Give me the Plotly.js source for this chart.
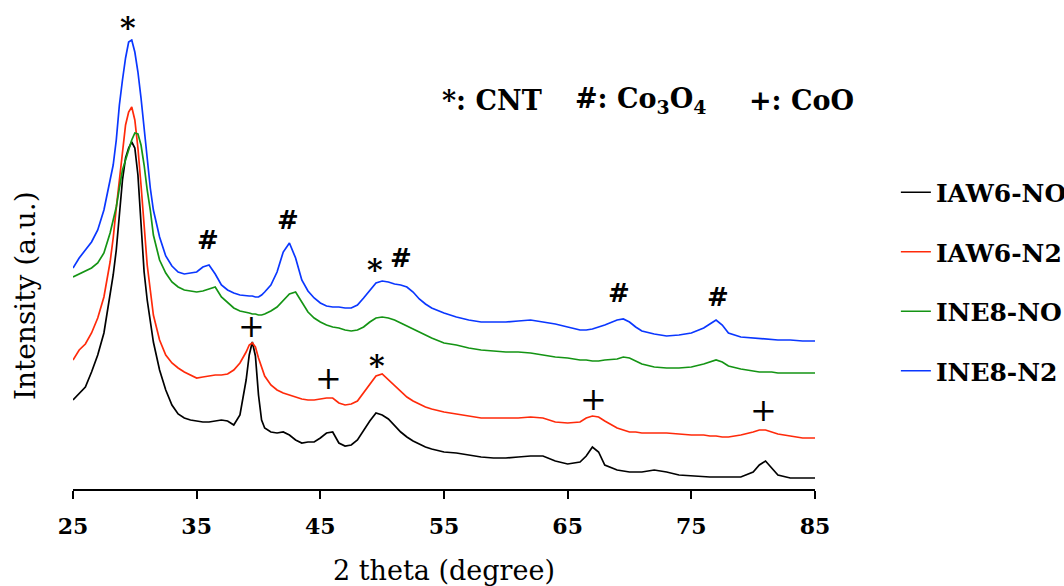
<!DOCTYPE html>
<html>
<head>
<meta charset="utf-8">
<script src="https://cdn.plot.ly/plotly-3.0.1.min.js"></script>
<style>html,body{margin:0;padding:0;background:#fff;}#chart{width:1064px;height:586px;}</style>
</head>
<body>
<div id="chart"></div>
<script>
// 2 theta (degree) grid shared by all patterns
var twoTheta = [25,25.5,26,26.5,27,27.5,28,28.25,28.5,28.75,29,29.25,29.5,29.75,30,30.25,30.5,30.75,31,31.25,31.5,32,32.5,33,33.5,34,34.5,35,35.5,36,36.5,37,37.5,38,38.5,39,39.25,39.5,39.75,40,40.25,40.5,41,41.5,42,42.5,43,43.5,44,44.5,45,45.5,46,46.5,47,47.5,48,48.5,49,49.5,50,50.5,51,51.5,52,52.5,53,53.5,54,55,56,57,58,59,60,61,62,63,64,65,66,66.5,67,67.5,68,69,69.5,70,70.5,71,72,73,74,75,76,76.5,77,77.5,78,79,80,80.5,81,81.5,82,83,84,85];

var seriesNames = ["IAW6-NO", "IAW6-N2", "INE8-NO", "INE8-N2"];

var iaw6NO = [89,96,102,117,134,156,192,214,239,277,
  309,331,341,347,341,314,269,217,189,166,
  147,119,99,84,75,71,69,68,67,67,
  68,69,68,64,74,109,134,147,133,94,
  69,61,57,56,57,54,49,46,47,47,
  51,56,57,46,43,44,49,59,68,76,
  74,70,63,57,52,48,45,42,40,37,
  36,34,32,31,31,32,33,33,28,25,
  27,33,42,37,24,19,18,17,17,17,
  19,17,14,13,12,12,12,12,12,12,
  17,24,28,21,14,11,11,11];

var iaw6N2 = [129,139,145,156,171,192,227,251,281,309,
  339,364,377,382,369,341,304,264,224,199,
  174,149,134,126,121,117,114,111,112,113,
  114,114,115,119,126,137,144,146,142,131,
  121,113,104,99,96,94,92,90,89,89,
  90,91,91,86,84,85,88,96,104,113,
  115,109,103,97,92,88,85,82,80,77,
  75,73,71,71,71,71,72,71,67,66,
  67,71,73,72,68,61,59,57,57,56,
  56,56,55,54,54,53,53,52,52,54,
  57,59,59,57,55,53,51,51];

var ine8NO = [212,215,218,221,226,236,256,268,282,301,
  319,329,339,349,356,355,344,324,299,279,
  254,229,216,207,202,199,198,197,198,200,
  202,192,186,181,178,177,176,175,175,174,
  174,175,178,182,188,195,197,187,177,171,
  167,164,162,161,159,158,159,162,167,171,
  172,171,169,166,163,160,157,154,151,146,
  144,141,139,138,137,137,136,134,132,131,
  129,129,128,128,129,130,132,131,128,125,
  122,121,121,122,125,127,129,127,123,120,
  118,117,117,117,116,116,116,116];

var ine8N2 = [221,231,239,247,259,279,309,324,349,384,
  409,431,447,449,437,417,391,359,327,301,
  279,252,233,223,217,215,216,217,222,224,
  215,204,199,196,194,193,193,193,192,192,
  194,197,204,217,237,246,231,209,198,191,
  186,183,182,182,181,181,184,191,199,206,
  208,207,205,204,202,197,190,185,181,176,
  172,169,167,167,167,168,169,167,165,162,
  159,159,160,162,164,169,170,167,162,158,
  155,153,154,156,161,165,169,164,156,152,
  151,151,150,150,149,149,148,148];

var seriesValues = [iaw6NO, iaw6N2, ine8NO, ine8N2];
var seriesColors = ["#000000", "#ff2a0a", "#149414", "#0a37ff"];

// Peak marks: symbol, 2 theta, height (intensity units)
var peakSymbols = ["*", "#", "#", "*", "#", "#", "#", "+", "+", "*", "+", "+"];
var peakTheta   = [29.45, 35.9, 42.4, 49.4, 51.5, 69.15, 77.15, 39.4, 45.7, 49.6, 67.05, 80.8];
var peakHeight  = [461, 249, 269, 220, 231, 196, 192, 163, 111, 124, 90, 79];

var legendKey = ["*: CNT", "#: Co<sub>3</sub>O<sub>4</sub>", "+: CoO"];
var legendKeyX = [0.4946, 0.674, 0.908];

var yMax = 450;
var serif = "DejaVu Serif, Liberation Serif, serif";

var traces = seriesNames.map(function (name, i) {
  return {
    x: twoTheta,
    y: seriesValues[i],
    type: "scatter",
    mode: "lines",
    name: name,
    legendgroup: "g" + i,
    line: {color: seriesColors[i], width: 1.7}
  };
});

var symbolSize = {"*": 30, "#": 26, "+": 32};
var annotations = peakSymbols.map(function (s, i) {
  var isPlus = s === "+";
  return {
    x: peakTheta[i], y: peakHeight[i] / yMax, xref: "x", yref: "paper",
    text: isPlus ? s : "<b>" + s + "</b>",
    showarrow: false,
    xanchor: "center", yanchor: "middle",
    font: {family: serif, size: symbolSize[s], color: "#000"}
  };
});
legendKey.forEach(function (t, i) {
  annotations.push({
    x: legendKeyX[i], y: 0.864, xref: "paper", yref: "paper",
    text: "<b>" + t + "</b>", showarrow: false,
    xanchor: "left", yanchor: "middle",
    font: {family: serif, size: 27, color: "#000"}
  });
});
// y-axis title (placed like the reference, below the plot centre)
annotations.push({
  x: -0.0647, y: 0.431, xref: "paper", yref: "paper",
  text: "Intensity (a.u.)", showarrow: false, textangle: -90,
  xanchor: "center", yanchor: "middle",
  font: {family: serif, size: 28, color: "#000"}
});

var layout = {
  width: 1064, height: 586,
  margin: {l: 73, r: 249, t: 39, b: 97, autoexpand: false},
  paper_bgcolor: "#fff", plot_bgcolor: "#fff",
  showlegend: true,
  legend: {
    x: 1.109, xanchor: "left", y: 0.71, yanchor: "top",
    font: {family: serif, size: 25, color: "#000", weight: "bold"},
    tracegroupgap: 24, bgcolor: "rgba(0,0,0,0)", borderwidth: 0
  },
  xaxis: {
    range: [25, 85], tickvals: [25, 35, 45, 55, 65, 75, 85],
    ticks: "outside", ticklen: 8, tickwidth: 2, tickcolor: "#000",
    showline: true, linecolor: "#000", linewidth: 2,
    showgrid: false, zeroline: false,
    ticklabelstandoff: 9,
    tickfont: {family: serif, size: 22, color: "#000", weight: "bold"},
    title: {text: "2 theta (degree)", font: {family: serif, size: 27, color: "#000"}, standoff: 27}
  },
  yaxis: {
    range: [0, yMax], showticklabels: false, ticks: "", showline: false,
    showgrid: false, zeroline: false
  },
  annotations: annotations
};

Plotly.newPlot("chart", traces, layout, {staticPlot: true, displayModeBar: false});
</script>
</body>
</html>
